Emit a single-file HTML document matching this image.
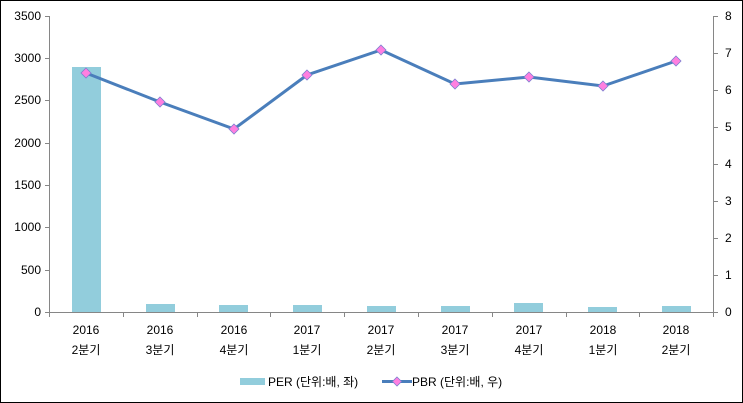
<!DOCTYPE html>
<html><head><meta charset="utf-8"><style>
body{margin:0;background:#fff}
svg{display:block}
text{font-family:"Liberation Sans","Noto Sans CJK KR",sans-serif;font-size:12px;fill:#000}
</style></head><body>
<svg width="743" height="403" viewBox="0 0 743 403" xmlns="http://www.w3.org/2000/svg">
<rect x="0.5" y="0.5" width="742" height="402" fill="#fff" stroke="#000"/>
<!-- left axis -->
<g stroke="#868686" stroke-width="1">
<line x1="49.5" y1="16" x2="49.5" y2="312"/>
<line x1="45" y1="16.5" x2="49.5" y2="16.5"/>
<line x1="45" y1="58.5" x2="49.5" y2="58.5"/>
<line x1="45" y1="100.5" x2="49.5" y2="100.5"/>
<line x1="45" y1="143.5" x2="49.5" y2="143.5"/>
<line x1="45" y1="185.5" x2="49.5" y2="185.5"/>
<line x1="45" y1="227.5" x2="49.5" y2="227.5"/>
<line x1="45" y1="270.5" x2="49.5" y2="270.5"/>
<line x1="45" y1="312.5" x2="713.5" y2="312.5"/>
<line x1="713.5" y1="16" x2="713.5" y2="312"/>
<line x1="713.5" y1="16.5" x2="718" y2="16.5"/>
<line x1="713.5" y1="53.5" x2="718" y2="53.5"/>
<line x1="713.5" y1="90.5" x2="718" y2="90.5"/>
<line x1="713.5" y1="127.5" x2="718" y2="127.5"/>
<line x1="713.5" y1="164.5" x2="718" y2="164.5"/>
<line x1="713.5" y1="201.5" x2="718" y2="201.5"/>
<line x1="713.5" y1="238.5" x2="718" y2="238.5"/>
<line x1="713.5" y1="275.5" x2="718" y2="275.5"/>
<line x1="713.5" y1="312.5" x2="718" y2="312.5"/>
<line x1="49.5" y1="312" x2="49.5" y2="317"/>
<line x1="123.5" y1="312" x2="123.5" y2="317"/>
<line x1="197.5" y1="312" x2="197.5" y2="317"/>
<line x1="270.5" y1="312" x2="270.5" y2="317"/>
<line x1="344.5" y1="312" x2="344.5" y2="317"/>
<line x1="418.5" y1="312" x2="418.5" y2="317"/>
<line x1="492.5" y1="312" x2="492.5" y2="317"/>
<line x1="566.5" y1="312" x2="566.5" y2="317"/>
<line x1="639.5" y1="312" x2="639.5" y2="317"/>
<line x1="713.5" y1="312" x2="713.5" y2="317"/>
</g>
<g text-anchor="end">
<text x="41" y="20">3500</text><text x="41" y="62">3000</text><text x="41" y="104">2500</text>
<text x="41" y="147">2000</text><text x="41" y="189">1500</text><text x="41" y="231">1000</text>
<text x="41" y="274">500</text><text x="41" y="316">0</text>
</g>
<g>
<text x="725" y="20">8</text><text x="725" y="57">7</text><text x="725" y="94">6</text>
<text x="725" y="131">5</text><text x="725" y="168">4</text><text x="725" y="205">3</text>
<text x="725" y="242">2</text><text x="725" y="279">1</text><text x="725" y="316">0</text>
</g>
<!-- bars -->
<g fill="#92cddc">
<rect x="72" y="67" width="29" height="245"/>
<rect x="146" y="304" width="29" height="8"/>
<rect x="219" y="305" width="29" height="7"/>
<rect x="293" y="305" width="29" height="7"/>
<rect x="367" y="306" width="29" height="6"/>
<rect x="441" y="306" width="29" height="6"/>
<rect x="514" y="303" width="29" height="9"/>
<rect x="588" y="307" width="29" height="5"/>
<rect x="662" y="306" width="29" height="6"/>
</g>
<polyline fill="none" stroke="#4a7ebb" stroke-width="3" points="86,73 160,102 234,129 307,75 381,50 455,84 529,77 603,86 676,61"/>
<g fill="#ff7fe0" stroke="#7f7fd0" stroke-width="0.8">
<path d="M86,68l5,5l-5,5l-5,-5z"/><path d="M160,97l5,5l-5,5l-5,-5z"/>
<path d="M234,124l5,5l-5,5l-5,-5z"/><path d="M307,70l5,5l-5,5l-5,-5z"/>
<path d="M381,45l5,5l-5,5l-5,-5z"/><path d="M455,79l5,5l-5,5l-5,-5z"/>
<path d="M529,72l5,5l-5,5l-5,-5z"/><path d="M603,81l5,5l-5,5l-5,-5z"/>
<path d="M676,56l5,5l-5,5l-5,-5z"/>
</g>
<g text-anchor="middle">
<text x="86" y="334">2016</text><text x="86" y="354">2분기</text>
<text x="160" y="334">2016</text><text x="160" y="354">3분기</text>
<text x="234" y="334">2016</text><text x="234" y="354">4분기</text>
<text x="307" y="334">2017</text><text x="307" y="354">1분기</text>
<text x="381" y="334">2017</text><text x="381" y="354">2분기</text>
<text x="455" y="334">2017</text><text x="455" y="354">3분기</text>
<text x="529" y="334">2017</text><text x="529" y="354">4분기</text>
<text x="603" y="334">2018</text><text x="603" y="354">1분기</text>
<text x="676" y="334">2018</text><text x="676" y="354">2분기</text>
</g>
<!-- legend -->
<rect x="240" y="378" width="25" height="7" fill="#92cddc"/>
<text x="268" y="386" font-size="11">PER (단위:배, 좌)</text>
<line x1="382" y1="381.5" x2="412" y2="381.5" stroke="#4a7ebb" stroke-width="3"/>
<path d="M397,377l4.5,4.5l-4.5,4.5l-4.5,-4.5z" fill="#ff7fe0" stroke="#7f7fd0" stroke-width="0.8"/>
<text x="412" y="386" font-size="11">PBR (단위:배, 우)</text>
</svg>
</body></html>
